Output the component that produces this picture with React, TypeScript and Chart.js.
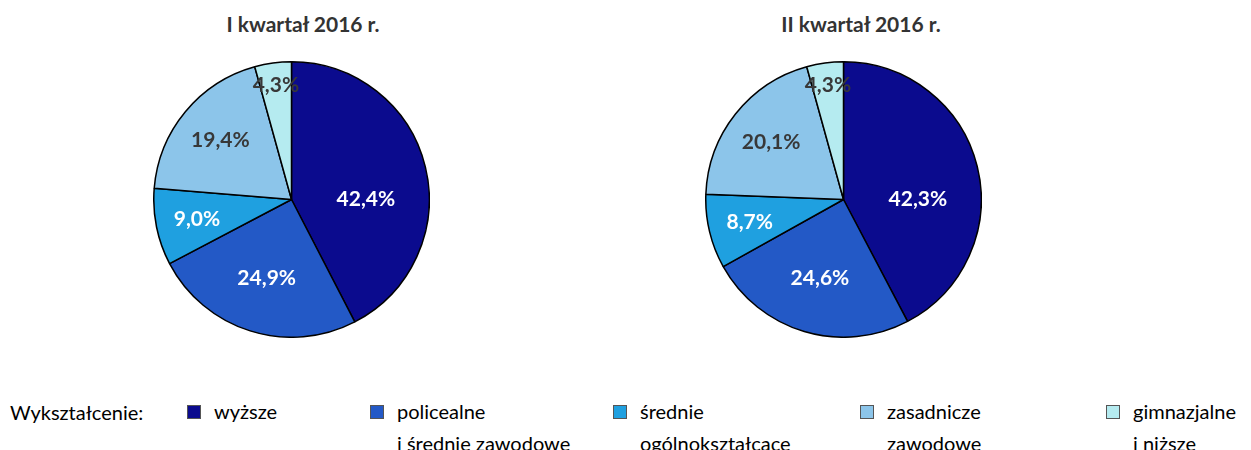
import React, { useEffect, useRef } from "react";
import { Chart, registerables } from "chart.js";

Chart.register(...registerables);

const categories = ["wyższe", "policealne i średnie zawodowe", "średnie ogólnokształcące", "zasadnicze zawodowe", "gimnazjalne i niższe"];
const legendLines: string[][] = [["wyższe"], ["policealne", "i średnie zawodowe"], ["średnie", "ogólnokształcące"], ["zasadnicze", "zawodowe"], ["gimnazjalne", "i niższe"]];
const q1Values = [42.4, 24.9, 9.0, 19.4, 4.3];
const q2Values = [42.3, 24.6, 8.7, 20.1, 4.3];
const titles = ["I kwartał 2016 r.", "II kwartał 2016 r."];
const colors = ["#0B0B8E", "#2359C6", "#1FA0E0", "#8CC5EA", "#B5EBF0"];
const labelColors = ["#FFFFFF", "#FFFFFF", "#FFFFFF", "#383838", "#383838"];

const FONT = "Lato, 'Open Sans', sans-serif";

const labelPlugin = {
  id: "sliceLabels",
  afterDatasetsDraw(chart: any, _args: any, opts: any) {
    const ctx = chart.ctx;
    const meta = chart.getDatasetMeta(0);
    const data = chart.data.datasets[0].data as number[];
    ctx.save();
    ctx.font = `bold 21px ${FONT}`;
    ctx.textAlign = "center";
    ctx.textBaseline = "middle";
    meta.data.forEach((arc: any, i: number) => {
      const p = arc.getProps(["x", "y", "startAngle", "endAngle", "outerRadius"], true);
      const t = opts.angleFrac[i];
      const a = p.startAngle + (p.endAngle - p.startAngle) * t;
      const r = p.outerRadius * opts.radiusFrac[i];
      ctx.fillStyle = labelColors[i];
      ctx.fillText(data[i].toFixed(1).replace(".", ",") + "%", p.x + Math.cos(a) * r, p.y + Math.sin(a) * r);
    });
    ctx.restore();
  },
};

function Pie({ values, left }: { values: number[]; left: number }) {
  const ref = useRef<HTMLCanvasElement>(null);
  useEffect(() => {
    const chart = new Chart(ref.current!, {
      type: "pie",
      data: {
        labels: categories,
        datasets: [
          {
            data: values,
            backgroundColor: colors,
            borderColor: "#000000",
            borderWidth: 1.5,
          },
        ],
      },
      options: {
        animation: false,
        responsive: false,
        maintainAspectRatio: false,
        layout: { padding: 0 },
        plugins: {
          legend: { display: false },
          tooltip: { enabled: false },
          title: { display: false },
          sliceLabels: {
            angleFrac: [0.59, 0.5, 0.5, 0.5, 0.5],
            radiusFrac: [0.54, 0.6, 0.7, 0.67, 0.84],
          },
        } as any,
      },
      plugins: [labelPlugin],
    });
    return () => chart.destroy();
  }, []);
  return (
    <canvas
      ref={ref}
      width={277}
      height={277}
      style={{ position: "absolute", left, top: 61, width: 277, height: 277 }}
    />
  );
}

export default function App() {
  const legendX = [187, 370, 613, 860, 1106];
  return (
    <div style={{ position: "absolute", left: 0, top: 0, width: 1251, height: 450, overflow: "hidden", background: "#fff", fontFamily: FONT }}>
      <div style={{ position: "absolute", left: 203, width: 200, top: 11, lineHeight: "26px", textAlign: "center", fontWeight: "bold", fontSize: 21, color: "#333" }}>{titles[0]}</div>
      <div style={{ position: "absolute", left: 761, width: 200, top: 11, lineHeight: "26px", textAlign: "center", fontWeight: "bold", fontSize: 21, color: "#333" }}>{titles[1]}</div>
      <Pie values={q1Values} left={153} />
      <Pie values={q2Values} left={705} />
      <div style={{ position: "absolute", left: 10, top: 400, fontSize: 20, color: "#000" }}>Wykształcenie:</div>
      {legendLines.map((lines, i) => (
        <div key={i} style={{ position: "absolute", left: legendX[i], top: 400 }}>
          <div style={{ position: "absolute", left: 0, top: 5, width: 12, height: 12, background: colors[i], border: "1px solid #555" }} />
          <div style={{ position: "absolute", left: 27, top: 0, fontSize: 20, lineHeight: "32px", color: "#000", whiteSpace: "nowrap", marginTop: -5 }}>
            {lines.map((l, j) => (
              <div key={j}>{l}</div>
            ))}
          </div>
        </div>
      ))}
    </div>
  );
}
